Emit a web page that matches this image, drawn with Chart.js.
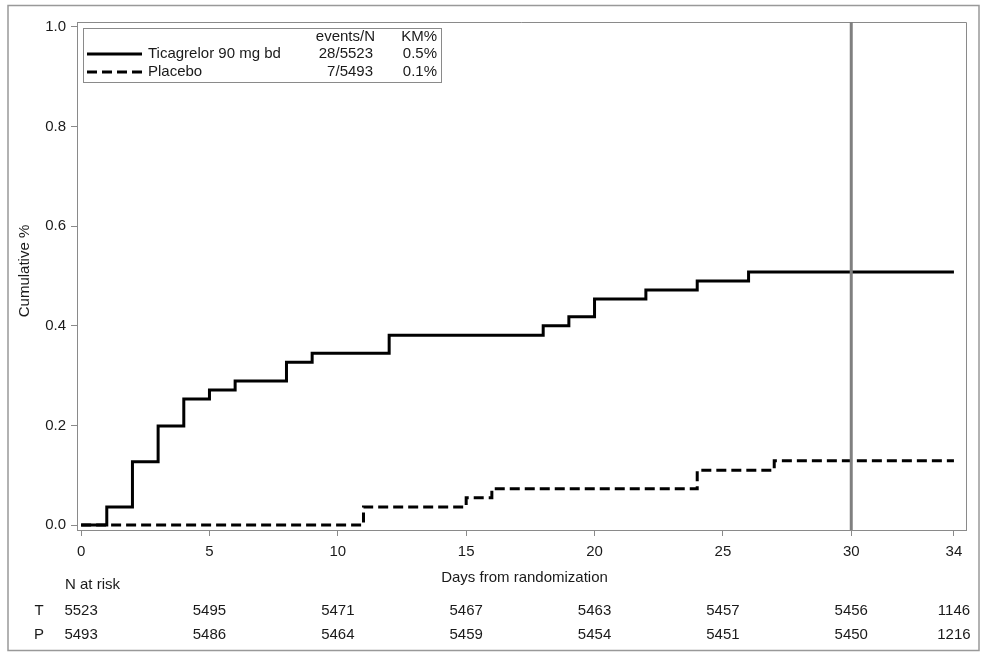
<!DOCTYPE html>
<html><head><meta charset="utf-8">
<script src="https://cdn.jsdelivr.net/npm/chart.js@4.4.0/dist/chart.umd.min.js"></script>
<style>html,body{margin:0;padding:0;background:#fff;}#wrap{width:986px;height:657px;position:relative;}</style>
</head><body><div id="wrap"><canvas id="c" width="986" height="657"></canvas></div>
<script>
// ---- data ----
const xTicks = [0, 5, 10, 15, 20, 25, 30, 34];
const yTicks = [0, 0.2, 0.4, 0.6, 0.8, 1.0];
const ticaDays = [0, 1, 2, 3, 4, 5, 6, 8, 9, 12, 18, 19, 20, 22, 24, 26, 34];
const ticaPct  = [0, 0.036, 0.127, 0.199, 0.253, 0.271, 0.289, 0.327, 0.345, 0.381, 0.400, 0.418, 0.454, 0.472, 0.490, 0.508, 0.508];
const placDays = [0, 11, 15, 16, 24, 27, 34];
const placPct  = [0, 0.036, 0.055, 0.073, 0.110, 0.129, 0.129];
const seriesNames = ['Ticagrelor 90 mg bd', 'Placebo'];
const eventsN = ['28/5523', '7/5493'];
const kmPct = ['0.5%', '0.1%'];
const riskLabels = ['T', 'P'];
const riskT = [5523, 5495, 5471, 5467, 5463, 5457, 5456, 1146];
const riskP = [5493, 5486, 5464, 5459, 5454, 5451, 5450, 1216];
const refDay = 30;

const FONT = '"Liberation Sans", Arial, sans-serif';
const FS = 15;
const TXT = '#1a1a1a';
const GRAY = '#8a8a8a';

const toPts = (xs, ys) => xs.map((x, i) => ({x: x, y: ys[i]}));

const overlay = {
  id: 'overlay',
  afterDatasetsDraw(chart) {
    const ctx = chart.ctx, a = chart.chartArea;
    const xs = chart.scales.x;
    ctx.save();
    // frame top/right
    ctx.strokeStyle = GRAY; ctx.lineWidth = 1;
    ctx.beginPath();
    ctx.moveTo(a.left, a.top + 0.5); ctx.lineTo(a.right + 0.5, a.top + 0.5); ctx.lineTo(a.right + 0.5, a.bottom);
    ctx.stroke();
    // reference line
    const rx = xs.getPixelForValue(refDay);
    ctx.strokeStyle = '#808080'; ctx.lineWidth = 3;
    ctx.beginPath(); ctx.moveTo(rx, a.top); ctx.lineTo(rx, a.bottom); ctx.stroke();
    // legend box
    ctx.fillStyle = '#fff';
    ctx.fillRect(83.5, 28.5, 358, 54);
    ctx.strokeStyle = GRAY; ctx.lineWidth = 1;
    ctx.strokeRect(83.5, 28.5, 358, 54);
    ctx.font = FS + 'px ' + FONT; ctx.fillStyle = TXT; ctx.textBaseline = 'middle';
    ctx.textAlign = 'right';
    ctx.fillText('events/N', 375, 37);
    ctx.fillText('KM%', 437, 37);
    const rowsY = [54, 72];
    for (let i = 0; i < 2; i++) {
      const y = rowsY[i];
      ctx.strokeStyle = '#000'; ctx.lineWidth = 3;
      ctx.setLineDash(i === 1 ? [10, 5] : []);
      ctx.beginPath(); ctx.moveTo(87, y); ctx.lineTo(142, y); ctx.stroke();
      ctx.setLineDash([]);
      ctx.textAlign = 'left';
      ctx.fillText(seriesNames[i], 148, y);
      ctx.textAlign = 'right';
      ctx.fillText(eventsN[i], 373, y);
      ctx.fillText(kmPct[i], 437, y);
    }
    // axis titles
    ctx.textAlign = 'center';
    ctx.fillText('Days from randomization', (a.left + a.right) / 2 + 3, 578);
    ctx.save();
    ctx.translate(25, (a.top + a.bottom) / 2 - 5);
    ctx.rotate(-Math.PI / 2);
    ctx.fillText('Cumulative %', 0, 0);
    ctx.restore();
    // risk table
    ctx.textAlign = 'left';
    ctx.fillText('N at risk', 65, 585);
    ctx.textAlign = 'center';
    ctx.fillText(riskLabels[0], 39, 611);
    ctx.fillText(riskLabels[1], 39, 635);
    xTicks.forEach((d, i) => {
      const px = xs.getPixelForValue(d);
      ctx.fillText(String(riskT[i]), px, 611);
      ctx.fillText(String(riskP[i]), px, 635);
    });
    // outer border
    ctx.strokeStyle = '#999'; ctx.lineWidth = 1.5;
    ctx.strokeRect(8, 5.5, 971, 645);
    ctx.restore();
  }
};

new Chart(document.getElementById('c'), {
  type: 'line',
  data: {
    datasets: [
      {label: seriesNames[0], data: toPts(ticaDays, ticaPct), stepped: 'before', borderColor: '#000', borderWidth: 3, pointRadius: 0, fill: false},
      {label: seriesNames[1], data: toPts(placDays, placPct), stepped: 'before', borderColor: '#000', borderWidth: 3, borderDash: [10, 5], pointRadius: 0, fill: false}
    ]
  },
  options: {
    responsive: false,
    animation: false,
    devicePixelRatio: 1,
    layout: {padding: {left: 0, top: 22, right: 20, bottom: 0}},
    plugins: {legend: {display: false}, tooltip: {enabled: false}},
    scales: {
      x: {
        type: 'linear', min: -0.16, max: 34.47,
        afterBuildTicks: s => { s.ticks = xTicks.map(v => ({value: v})); },
        afterFit: s => { s.height = 127; },
        ticks: {autoSkip: false, maxRotation: 0, padding: 7, color: TXT, font: {family: FONT, size: FS}, callback: v => String(v)},
        grid: {drawOnChartArea: false, drawTicks: true, tickLength: 6, color: GRAY},
        border: {display: true, color: GRAY}
      },
      y: {
        type: 'linear', min: -0.01, max: 1.01,
        afterBuildTicks: s => { s.ticks = yTicks.map(v => ({value: v})); },
        afterFit: s => { s.width = 77; },
        ticks: {padding: 5, color: TXT, font: {family: FONT, size: FS}, callback: v => Number(v).toFixed(1)},
        grid: {drawOnChartArea: false, drawTicks: true, tickLength: 6, color: GRAY},
        border: {display: true, color: GRAY}
      }
    }
  },
  plugins: [overlay]
});
</script>
</body></html>
